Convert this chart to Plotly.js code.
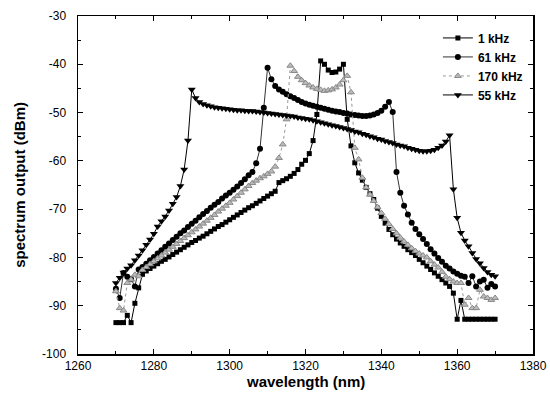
<!DOCTYPE html>
<html>
<head>
<meta charset="utf-8">
<script src="https://cdn.plot.ly/plotly-3.0.1.min.js"></script>
<style>html,body{margin:0;padding:0;background:#fff;}#chart{width:550px;height:403px;}</style>
</head>
<body>
<div id="chart"></div>
<script>
// wavelength grid (nm)
const wavelength = [];
for (let w = 1270; w <= 1370; w++) wavelength.push(w);

const seriesNames = ["1 kHz", "61 kHz", "170 kHz", "55 kHz"];

// 1 kHz (squares)
const khz1 = [
 -93.5,-93.5,-93.5,-92.0,-93.5,-89.5,-86.3,-83.5,-82.8,-82.3,
 -81.8,-81.3,-80.8,-80.4,-79.9,-79.4,-78.9,-78.4,-77.9,-77.4,
 -76.9,-76.5,-76.0,-75.6,-75.1,-74.6,-74.1,-73.6,-73.2,-72.7,
 -72.2,-71.7,-71.2,-70.7,-70.2,-69.7,-69.3,-68.8,-68.3,-67.8,
 -67.3,-66.8,-66.3,-64.5,-64.1,-63.7,-63.2,-62.6,-61.8,-60.7,
 -59.9,-58.5,-55.8,-50.4,-39.3,-40.0,-41.2,-41.7,-41.6,-41.0,
 -40.0,-51.4,-56.9,-60.4,-62.5,-64.0,-65.5,-66.8,-68.0,-69.8,
 -71.5,-72.9,-74.2,-75.3,-76.2,-77.0,-77.7,-78.4,-79.0,-79.6,
 -80.4,-81.1,-81.8,-82.5,-83.2,-83.9,-84.6,-85.3,-86.0,-87.4,
 -92.8,-88.9,-92.8,-92.8,-92.8,-92.8,-92.8,-92.8,-92.8,-92.8,
 -92.8
];

// 61 kHz (circles)
const khz61 = [
 -86.5,-88.4,-83.2,-84.0,-84.5,-86.0,-82.5,-82.0,-81.3,-80.6,
 -79.9,-79.2,-78.5,-77.8,-77.1,-76.4,-75.7,-75.0,-74.4,-73.7,
 -73.0,-72.4,-71.7,-71.0,-70.4,-69.7,-69.1,-68.5,-67.8,-67.2,
 -66.6,-66.0,-65.3,-64.6,-63.8,-63.0,-62.3,-60.5,-57.5,-49.0,
 -40.7,-43.1,-44.5,-45.2,-45.7,-46.2,-46.6,-47.0,-47.4,-47.8,
 -48.1,-48.4,-48.6,-48.8,-49.0,-49.2,-49.4,-49.6,-49.8,-49.9,
 -50.1,-50.2,-50.4,-50.5,-50.6,-50.7,-50.7,-50.6,-50.4,-50.1,
 -49.6,-48.8,-47.8,-49.9,-62.3,-66.6,-69.3,-71.1,-72.8,-74.1,
 -75.2,-76.2,-77.2,-78.3,-79.2,-80.1,-80.9,-81.7,-82.3,-82.9,
 -83.4,-83.8,-84.0,-85.3,-83.9,-86.0,-85.0,-84.6,-86.3,-85.5,
 -86.0
];

// 170 kHz (grey up-triangles)
const khz170 = [
 -87.0,-90.5,-91.0,-85.3,-84.6,-83.6,-83.9,-82.6,-82.0,-81.4,
 -80.8,-80.2,-79.6,-79.0,-78.4,-77.8,-77.2,-76.6,-76.0,-75.4,
 -74.8,-74.2,-73.6,-73.0,-72.4,-71.8,-71.2,-70.5,-69.9,-69.3,
 -68.7,-68.0,-67.3,-66.6,-65.9,-65.2,-64.6,-64.1,-63.6,-63.2,
 -62.7,-62.2,-61.2,-59.4,-56.6,-51.4,-40.3,-41.4,-42.6,-43.3,
 -43.9,-44.4,-44.8,-45.1,-45.3,-45.5,-45.4,-45.2,-44.8,-44.2,
 -43.3,-42.4,-45.8,-57.3,-59.7,-63.5,-65.5,-67.0,-68.3,-69.6,
 -70.8,-72.0,-73.1,-74.1,-75.0,-75.9,-76.7,-77.4,-78.1,-78.7,
 -79.2,-79.6,-80.0,-80.8,-81.5,-82.1,-83.0,-84.0,-84.5,-85.0,
 -85.3,-85.3,-89.8,-88.4,-90.5,-90.5,-86.7,-88.1,-88.4,-88.8,
 -88.4
];

// 55 kHz (black down-triangles)
const khz55 = [
 -85.3,-84.2,-83.1,-82.3,-81.6,-80.6,-79.6,-78.5,-77.4,-76.3,
 -75.1,-73.6,-72.5,-71.5,-70.3,-68.9,-67.5,-65.2,-61.8,-55.8,
 -45.2,-47.0,-47.8,-48.2,-48.5,-48.7,-48.9,-49.0,-49.1,-49.2,
 -49.3,-49.4,-49.5,-49.5,-49.6,-49.7,-49.7,-49.8,-49.9,-50.0,
 -50.1,-50.2,-50.3,-50.4,-50.5,-50.6,-50.7,-50.8,-51.0,-51.1,
 -51.3,-51.4,-51.6,-51.8,-52.0,-52.2,-52.4,-52.6,-52.8,-53.0,
 -53.2,-53.4,-53.6,-53.9,-54.1,-54.4,-54.6,-54.9,-55.1,-55.4,
 -55.6,-55.9,-56.1,-56.3,-56.6,-56.8,-57.0,-57.3,-57.5,-57.7,
 -57.9,-58.0,-58.0,-57.9,-57.7,-57.3,-56.8,-56.0,-54.7,-65.9,
 -71.8,-74.9,-76.5,-77.7,-79.1,-80.3,-81.2,-82.2,-83.0,-83.6,
 -83.9
];

const xTicks = [1260,1280,1300,1320,1340,1360,1380];
const yTicks = [-100,-90,-80,-70,-60,-50,-40,-30];
const xTitle = "wavelength (nm)";
const yTitle = "spectrum output (dBm)";

const FONT = "Liberation Sans, Arial, Helvetica, sans-serif";

const traces = [
  {x: wavelength, y: khz1, name: seriesNames[0], mode: "lines+markers",
   line: {color: "#000", width: 1},
   marker: {symbol: "square", size: 5, color: "#000"}},
  {x: wavelength, y: khz61, name: seriesNames[1], mode: "lines+markers",
   line: {color: "#333", width: 1},
   marker: {symbol: "circle", size: 6, color: "#000"}},
  {x: wavelength, y: khz170, name: seriesNames[2], mode: "lines+markers",
   line: {color: "#999", width: 1, dash: "dot"},
   marker: {symbol: "triangle-up", size: 6, color: "#bbb", line: {color: "#888", width: 1}}},
  {x: wavelength, y: khz55, name: seriesNames[3], mode: "lines+markers",
   line: {color: "#000", width: 1},
   marker: {symbol: "triangle-down", size: 7, color: "#000"}}
];

const axisCommon = {
  showgrid: false, zeroline: false, showline: true, linecolor: "#000", linewidth: 1.5,
  mirror: "ticks", ticks: "inside", ticklen: 5, tickwidth: 1, tickcolor: "#000",
  tickfont: {family: FONT, size: 12, color: "#000"}
};

const titleFont = {family: FONT, size: 15, weight: "bold", color: "#000"};

const layout = {
  width: 550, height: 403,
  margin: {l: 78, r: 17, t: 16, b: 49},
  paper_bgcolor: "#fff", plot_bgcolor: "#fff",
  showlegend: true,
  legend: {x: 0.791, y: 0.978, xanchor: "left", yanchor: "top",
           bgcolor: "rgba(0,0,0,0)", borderwidth: 0,
           font: {family: FONT, size: 12, color: "#000", weight: "bold"},
           tracegroupgap: 0, itemwidth: 30},
  xaxis: Object.assign({}, axisCommon, {
    range: [1260, 1380], tickvals: xTicks, ticktext: xTicks.map(String),
    minor: {dtick: 10, tick0: 1260, ticks: "inside", ticklen: 3, tickwidth: 1, tickcolor: "#000"},
    ticklabelstandoff: 0
  }),
  yaxis: Object.assign({}, axisCommon, {
    range: [-100, -30], tickvals: yTicks, ticktext: yTicks.map(String),
    minor: {dtick: 5, tick0: -100, ticks: "inside", ticklen: 3, tickwidth: 1, tickcolor: "#000"},
    ticklabelstandoff: 8
  }),
  annotations: [
    {text: xTitle, xref: "paper", yref: "paper", x: 0.5, y: -0.08,
     xanchor: "center", yanchor: "middle", showarrow: false, font: titleFont},
    {text: yTitle, xref: "paper", yref: "paper", x: -0.13, y: 0.5, textangle: -90,
     xanchor: "center", yanchor: "middle", showarrow: false, font: titleFont}
  ]
};

Plotly.newPlot("chart", traces, layout, {displayModeBar: false, staticPlot: true});
</script>
</body>
</html>
